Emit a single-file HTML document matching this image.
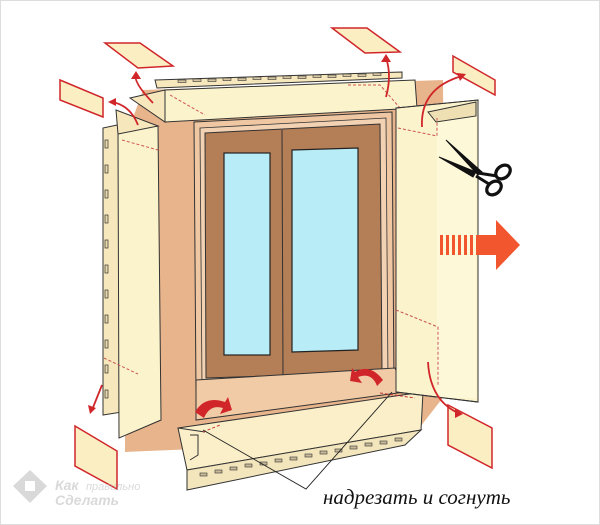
<!DOCTYPE html>
<html><head><meta charset="utf-8"><style>
html,body{margin:0;padding:0;background:#fff;width:600px;height:525px;overflow:hidden}
svg{display:block}
</style></head><body>
<svg width="600" height="525" viewBox="0 0 600 525" xmlns="http://www.w3.org/2000/svg">
<rect x="0" y="0" width="600" height="525" fill="#fff"/>
<rect x="0.5" y="0.5" width="599" height="524" fill="none" stroke="#ddd"/>
<polygon points="143,90 443,80 445,395 410,440 125,452 125,140" fill="#e8b48c"/>
<polygon points="194,122 392,112 394,386 196,392" fill="#efc7a3" stroke="#333" stroke-width="1"/>
<polygon points="200,128 386,118 388,380 202,386" fill="#f2d2b2" stroke="#333" stroke-width="0.8"/>
<polygon points="205,133 380,124 382,372 206,378" fill="#b47e57" stroke="#333" stroke-width="1"/>
<line x1="282" y1="130" x2="283" y2="376" stroke="#333" stroke-width="1"/>
<rect x="224" y="153" width="46" height="202" fill="#b8ecf6" stroke="#222" stroke-width="1.2"/>
<polygon points="292,150 358,148 358,350 292,352" fill="#b8ecf6" stroke="#222" stroke-width="1.2"/>
<polygon points="196,380 395,368 405,392 196,420" fill="#f0cba6" stroke="#333" stroke-width="1"/>
<polygon points="178,428 423,392 421,430 187,470" fill="#faefc8" stroke="#333" stroke-width="1"/>
<polygon points="187,470 421,430 405,445 187,490" fill="#f3e6bd" stroke="#333" stroke-width="1"/>
<g fill="#c8b898" stroke="#333" stroke-width="0.6">
<rect x="200" y="473" width="7" height="3"/><rect x="215" y="470" width="7" height="3"/><rect x="230" y="467" width="7" height="3"/><rect x="245" y="464" width="7" height="3"/><rect x="260" y="462" width="7" height="3"/><rect x="275" y="459" width="7" height="3"/><rect x="290" y="457" width="7" height="3"/><rect x="305" y="454" width="7" height="3"/><rect x="320" y="451" width="7" height="3"/><rect x="335" y="449" width="7" height="3"/><rect x="350" y="446" width="7" height="3"/><rect x="365" y="443" width="7" height="3"/><rect x="380" y="441" width="7" height="3"/><rect x="395" y="438" width="7" height="3"/>
</g>
<line x1="178" y1="428" x2="205" y2="432" stroke="#333"/>
<polyline points="190,435 198,435 198,455 190,460" fill="none" stroke="#333"/>
<line x1="203" y1="432" x2="220" y2="425" stroke="#c33" stroke-dasharray="3,2"/>
<line x1="380" y1="393" x2="415" y2="398" stroke="#c33" stroke-dasharray="3,2"/>
<polygon points="103,128 122,124 122,412 103,415" fill="#f6e7bd" stroke="#333"/>
<g fill="#e8d7a8" stroke="#333" stroke-width="0.7">
<rect x="105" y="140" width="3" height="8"/><rect x="105" y="165" width="3" height="8"/><rect x="105" y="190" width="3" height="8"/><rect x="105" y="215" width="3" height="8"/><rect x="105" y="240" width="3" height="8"/><rect x="105" y="265" width="3" height="8"/><rect x="105" y="290" width="3" height="8"/><rect x="105" y="315" width="3" height="8"/><rect x="105" y="340" width="3" height="8"/><rect x="105" y="365" width="3" height="8"/><rect x="105" y="390" width="3" height="8"/>
</g>
<polygon points="118,132 158,126 161,420 119,438" fill="#fbf3cc" stroke="#333"/>
<polygon points="116,110 158,126 118,134" fill="#f6e7bd" stroke="#333"/>
<line x1="122" y1="140" x2="158" y2="150" stroke="#c55" stroke-dasharray="3,2"/>
<line x1="104" y1="358" x2="138" y2="374" stroke="#c55" stroke-dasharray="3,2"/>
<polygon points="155,80 402,72 402,78 157,88" fill="#f6e7bd" stroke="#333"/>
<g fill="#d8c7a0" stroke="#333" stroke-width="0.6">
<rect x="178" y="80" width="8" height="2.5"/><rect x="193" y="79" width="8" height="2.5"/><rect x="208" y="79" width="8" height="2.5"/><rect x="223" y="78" width="8" height="2.5"/><rect x="238" y="78" width="8" height="2.5"/><rect x="253" y="77" width="8" height="2.5"/><rect x="268" y="77" width="8" height="2.5"/><rect x="283" y="76" width="8" height="2.5"/><rect x="298" y="76" width="8" height="2.5"/><rect x="313" y="75" width="8" height="2.5"/><rect x="328" y="75" width="8" height="2.5"/><rect x="343" y="74" width="8" height="2.5"/><rect x="358" y="74" width="8" height="2.5"/><rect x="373" y="73" width="8" height="2.5"/>
</g>
<polygon points="165,90 415,80 417,108 165,122" fill="#fbf3cc" stroke="#333"/>
<polygon points="130,98 165,90 165,122" fill="#f6e7bd" stroke="#333"/>
<line x1="170" y1="95" x2="205" y2="115" stroke="#c55" stroke-dasharray="3,2"/>
<polyline points="348,85 380,85 400,108" fill="none" stroke="#c55" stroke-dasharray="3,2"/>
<polygon points="396,108 478,100 478,402 396,392" fill="#fbf3cc" stroke="#333"/>
<rect x="437" y="108" width="39" height="290" fill="#fdf8d8"/>
<polygon points="396,108 478,100 478,402 396,392" fill="none" stroke="#333"/>
<polygon points="428,112 476,102 476,116 436,122" fill="#efe0b4" stroke="#333"/>
<polyline points="398,128 437,136 437,118" fill="none" stroke="#c55" stroke-dasharray="3,2"/>
<polyline points="396,310 438,327 438,385" fill="none" stroke="#c55" stroke-dasharray="3,2"/>
<g fill="#fbeec3" stroke="#d0262a" stroke-width="1.5">
<polygon points="105,43 140,43 173,66 138,68"/>
<polygon points="60,80 103,98 103,117 60,100"/>
<polygon points="332,28 367,28 400,52 365,53"/>
<polygon points="453,56 495,80 495,95 453,72"/>
<polygon points="75,426 117,451 117,489 75,466"/>
<polygon points="448,405 492,428 492,468 448,445"/>
</g>
<g fill="none" stroke="#d0262a" stroke-width="1.8">
<path d="M153,103 Q133,82 136,75"/><path d="M138,125 Q130,105 112,102"/>
<path d="M386,97 Q392,75 386,58"/><path d="M422,127 Q420,88 462,76"/>
<path d="M102,385 L92,410"/><path d="M428,362 Q430,400 458,413"/>
</g>
<g fill="#d0262a">
<polygon points="136,71 131,79 141,79"/><polygon points="108,102 116,98 116,106"/>
<polygon points="386,54 381,62 391,62"/><polygon points="466,74 457,73 460,81"/>
<polygon points="90,414 88,405 96,408"/><polygon points="463,414 455,409 455,418"/>
<path d="M195,412 Q205,395 225,402 L228,397 L232,410 L220,414 L223,408 Q210,404 204,418 Z"/>
<path d="M383,380 Q370,363 355,372 L352,368 L350,381 L362,383 L358,377 Q372,372 377,386 Z"/>
</g>
<g fill="#111" stroke="#111">
<path d="M446,140 L482,172 L478,175 Z" stroke-width="1"/>
<path d="M439,157 L476,172 L473,177 Z" stroke-width="1"/>
<ellipse cx="503" cy="172" rx="8" ry="6" fill="none" stroke-width="3.2" transform="rotate(-40 503 172)"/>
<ellipse cx="494" cy="188" rx="8" ry="6" fill="none" stroke-width="3.2" transform="rotate(-40 494 188)"/>
<line x1="478" y1="173" x2="497" y2="176" stroke-width="3"/>
<line x1="476" y1="176" x2="489" y2="184" stroke-width="3"/>
</g>
<g fill="#f2562e">
<rect x="440" y="235" width="3" height="20"/><rect x="446" y="235" width="3" height="20"/><rect x="452" y="235" width="3" height="20"/><rect x="458" y="235" width="3" height="20"/><rect x="464" y="235" width="3" height="20"/><rect x="470" y="235" width="3" height="20"/>
<polygon points="476,235 496,235 496,220 520,245 496,270 496,255 476,255"/>
</g>
<polyline points="203,430 306,489 392,392" fill="none" stroke="#222" stroke-width="0.9"/>
<text x="323" y="504" font-family="'Liberation Serif',serif" font-style="italic" font-size="21" fill="#111">надрезать и согнуть</text>
<g opacity="0.55">
<polygon points="30,470 47,486 30,503 13,486" fill="#bbb"/>
<rect x="25" y="481" width="10" height="10" fill="#fff"/>
<text x="55" y="490" font-family="'Liberation Sans',sans-serif" font-style="italic" font-weight="bold" font-size="14" fill="#bbb">Как</text>
<text x="86" y="490" font-family="'Liberation Sans',sans-serif" font-style="italic" font-size="11" fill="#bbb">правильно</text>
<text x="55" y="505" font-family="'Liberation Sans',sans-serif" font-style="italic" font-weight="bold" font-size="14" fill="#bbb">Сделать</text>
</g>
</svg>
</body></html>
